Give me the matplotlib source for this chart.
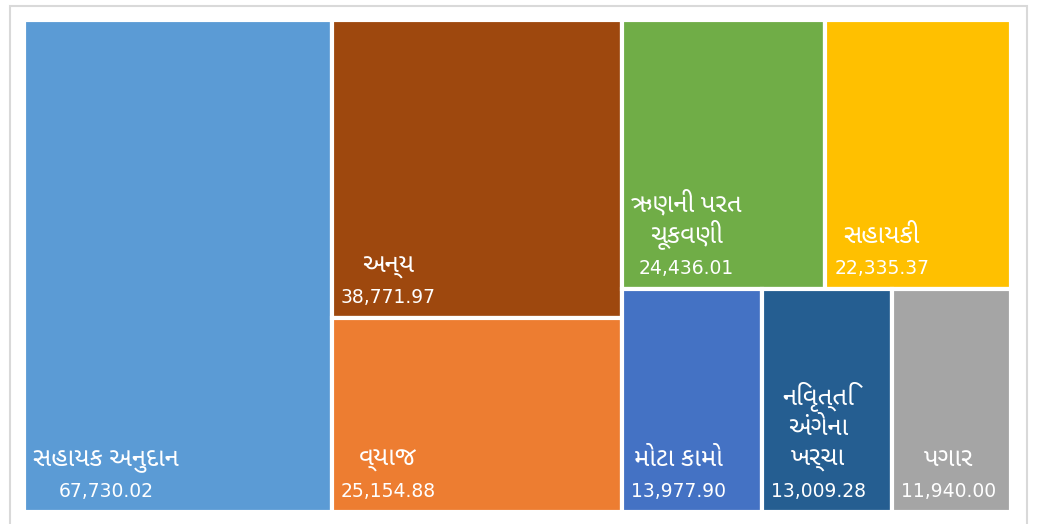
import matplotlib
matplotlib.use("Agg")
import matplotlib.pyplot as plt
from matplotlib.patches import Rectangle
from matplotlib import font_manager, ft2font

###
### Data
###
labels = ["સહાયક અનુદાન", "અન્ય", "વ્યાજ", "ઋણની પરત\nચૂકવણી", "સહાયકી",
          "મોટા કામો", "નિવૃત્તિ\nઅંગેના\nખર્ચા", "પગાર"]
values = [67730.02, 38771.97, 25154.88, 24436.01, 22335.37,
          13977.90, 13009.28, 11940.00]
colors = ["#5B9BD5", "#9E480E", "#ED7D31", "#70AD47", "#FFC000",
          "#4472C4", "#255E91", "#A5A5A5"]

###
### Pick a font with Gujarati glyphs
###
preferred = ["Noto Sans Gujarati", "Hind Vadodara", "Mukta Vaani",
             "Anek Gujarati", "FreeSans", "FreeSerif"]
guj_fonts = set()
for f in font_manager.fontManager.ttflist:
    try:
        if 0x0A95 in ft2font.FT2Font(f.fname).get_charmap():
            guj_fonts.add(f.name)
    except Exception:
        pass
guj = next((p for p in preferred if p in guj_fonts), None)
if guj is None and guj_fonts:
    guj = sorted(guj_fonts)[0]
lab_family = ([guj] if guj else []) + ["DejaVu Sans"]


###
### Squarified treemap layout
###
def worst(row, side):
    s = sum(row)
    return max(max(side * side * r / (s * s), s * s / (side * side * r)) for r in row)


def squarify(vals, x, y, w, h):
    total = sum(vals)
    areas = [v / total * w * h for v in vals]
    rects = []
    while areas:
        side = min(w, h)
        row = [areas[0]]
        i = 1
        while i < len(areas) and worst(row + [areas[i]], side) <= worst(row, side):
            row.append(areas[i])
            i += 1
        s = sum(row)
        if w >= h:
            cw = s / h
            cy = y
            for a in row:
                rects.append((x, cy, cw, a / cw))
                cy += a / cw
            x += cw
            w -= cw
        else:
            rh = s / w
            cx = x
            for a in row:
                rects.append((cx, y, a / rh, rh))
                cx += a / rh
            y += rh
            h -= rh
        areas = areas[i:]
    return rects


W, H = 1041, 524
fig = plt.figure(figsize=(W / 100, H / 100), dpi=100)
ax = fig.add_axes([0, 0, 1, 1])
ax.set_xlim(0, W)
ax.set_ylim(H, 0)
ax.axis("off")
renderer = fig.canvas.get_renderer()

# outer frame
ax.add_patch(Rectangle((10, 5.5), 1017, 530, facecolor="white",
                       edgecolor="#d9d9d9", linewidth=1.5, zorder=0))

rects = squarify(values, 24, 20, 987, 492)
for (x, y, w, h), lab, val, col in zip(rects, labels, values, colors):
    ax.add_patch(Rectangle((x, y), w, h, facecolor=col, edgecolor="white",
                           linewidth=3, zorder=1))
    # label lines from bottom up: number, then the name lines
    lines = [("{:,.2f}".format(val), ["DejaVu Sans"], 13.5)]
    for part in reversed(lab.split("\n")):
        lines.append((part, lab_family, 18.5))
    texts = []
    base = y + h - 15
    for k, (s, fam, fs) in enumerate(lines):
        t = ax.text(x + 9, base - 31 * k, s, ha="left", va="baseline",
                    color="white", fontsize=fs, family=fam, zorder=2)
        texts.append(t)
    widths = [t.get_window_extent(renderer).width for t in texts]
    cx = x + 9 + max(widths) / 2
    for t in texts:
        t.set_x(cx)
        t.set_ha("center")

plt.savefig("out.png", dpi=100)
